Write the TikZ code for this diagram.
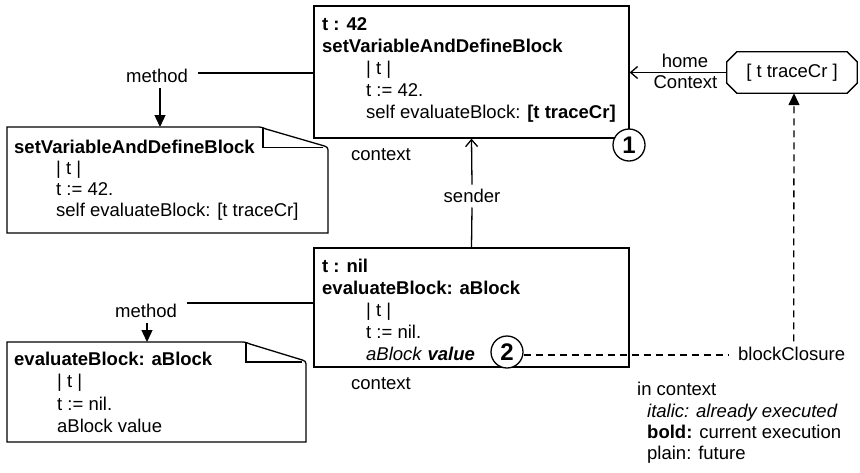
\documentclass[tikz,border=0pt]{standalone}
\usepackage{fontspec}
\setmainfont{Liberation Sans}
\usetikzlibrary{arrows.meta,calc}
\begin{document}
\begin{tikzpicture}[x=1pt,y=-1pt,
  every node/.style={font=\fontsize{18.5}{22}\selectfont, inner sep=0pt},
  ln/.style={line width=1.3pt},
  boxstyle/.style={draw, line width=1.3pt, minimum width=315pt, inner sep=0pt},
  txt/.style={anchor=base west},
  bf/.style={font=\fontsize{18.5}{22}\selectfont\bfseries},
  openarrow/.style={ln, -{Straight Barb[length=7pt,width=12pt,line width=1.3pt]}},
  fillarrow/.style={ln, -{Triangle[length=12pt,width=11pt]}},
  dashline/.style={ln, dash pattern=on 7pt off 5pt},
  num/.style={draw, circle, line width=1.3pt, fill=white, minimum size=32pt, font=\fontsize{24}{24}\selectfont\bfseries},
]
\useasboundingbox (0,0) rectangle (860,472);

% ---------- top context box ----------
\node[boxstyle, minimum height=132pt] (ctxa) at (471.5,72) {};
\node[txt,bf] (a1) at (322,30) {t : 42};
\node[txt,bf] (a2) at (322,52) {setVariableAndDefineBlock};
\node[txt] (a3) at (366,74) {| t |};
\node[txt] (a4) at (366,96) {t := 42.};
\node[txt] (a5) at (366,118) {self evaluateBlock: \textbf{[t traceCr]}};
\node[txt] (ctxalbl) at (351,160) {context};
\node[num] (one) at (629,145) {1};

% ---------- bottom context box ----------
\node[boxstyle, minimum height=119pt] (ctxb) at (471.5,307.5) {};
\node[txt,bf] (b1) at (322,272) {t : nil};
\node[txt,bf] (b2) at (322,294) {evaluateBlock: aBlock};
\node[txt] (b3) at (366,316) {| t |};
\node[txt] (b4) at (366,338) {t := nil.};
\node[txt] (b5) at (366,360) {\textit{aBlock} \textbf{\textit{value}}};
\node[txt] (ctxblbl) at (351,389) {context};
\node[num] (two) at (507,352) {2};

% ---------- sender ----------
\node (snd) at (472,196) [inner ysep=4.5pt] {sender};
\draw[ln] (ctxb.north) -- (snd.south);
\draw[openarrow] (snd.north) -- (ctxa.south);

% ---------- closure ----------
\node (oct) at (792,72.5) [minimum width=130pt, minimum height=41pt] {[ t traceCr ]};
\draw[ln] ($(oct.north west)+(10,0)$) -- ($(oct.north east)+(-10,0)$) -- ($(oct.north east)+(0,10)$)
  -- ($(oct.south east)+(0,-10)$) -- ($(oct.south east)+(-10,0)$) -- ($(oct.south west)+(10,0)$)
  -- ($(oct.south west)+(0,-10)$) -- ($(oct.north west)+(0,10)$) -- cycle;
\draw[openarrow] (oct.west) -- (oct.west -| ctxa.east);
\node[anchor=base] (home) at (685,67) {home};
\node[anchor=base] (hctx) at (685.5,88) {Context};

\node[txt] (bc) at (738,360) {blockClosure};
\coordinate (bcl) at (728,355);
\draw[dashline] (bcl -| two.east) -- (bcl);
\draw[dashline, -{Triangle[length=12pt,width=11pt]}] ($(bc.north)+(2,-5)$) -- ($(oct.south)+(2,0)$);

% ---------- top method note ----------
\node[txt] (ma) at (126,82) {method};
\coordinate (mal) at (198,73);
\draw[ln] (mal) -- (mal -| ctxa.west);
\coordinate (natop) at (160,127);
\draw[fillarrow] ($(natop |- ma.south)+(0,6)$) -- (natop);
\draw[ln] (7,127) -- (256,127) .. controls (261,127) .. (266,129) -- (321,145)
  .. controls (328,147) .. (328,153) -- (328,233) -- (7,233) -- cycle;
\draw[ln] (263,128) -- (263,147.5) -- (323,147.5);
\node[txt,bf] (na1) at (14,153) {setVariableAndDefineBlock};
\node[txt] (na2) at (56,174) {| t |};
\node[txt] (na3) at (56,195) {t := 42.};
\node[txt] (na4) at (56,216) {self evaluateBlock: [t traceCr]};

% ---------- bottom method note ----------
\node[txt] (mb) at (115,317) {method};
\coordinate (mbl) at (187,303);
\draw[ln] (mbl) -- (mbl -| ctxb.west);
\coordinate (nbtop) at (147,342);
\draw[fillarrow] ($(nbtop |- mb.south)+(0,6)$) -- (nbtop);
\draw[ln] (7,342) -- (240,342) .. controls (245,342) .. (250,344) -- (299,359)
  .. controls (306,361) .. (306,367) -- (306,442) -- (7,442) -- cycle;
\draw[ln] (246,343) -- (246,362) -- (302,362);
\node[txt,bf] (nb1) at (14,365) {evaluateBlock: aBlock};
\node[txt] (nb2) at (57,387) {| t |};
\node[txt] (nb3) at (57,410) {t := nil.};
\node[txt] (nb4) at (57,432) {aBlock value};

% ---------- legend ----------
\node[txt] (lg1) at (637,395) {in context};
\node[txt] (lg2) at (647,417) {\textit{italic: already executed}};
\node[txt] (lg3) at (647,438) {\textbf{bold:} current execution};
\node[txt] (lg4) at (647,459) {plain: future};
\end{tikzpicture}
\end{document}
